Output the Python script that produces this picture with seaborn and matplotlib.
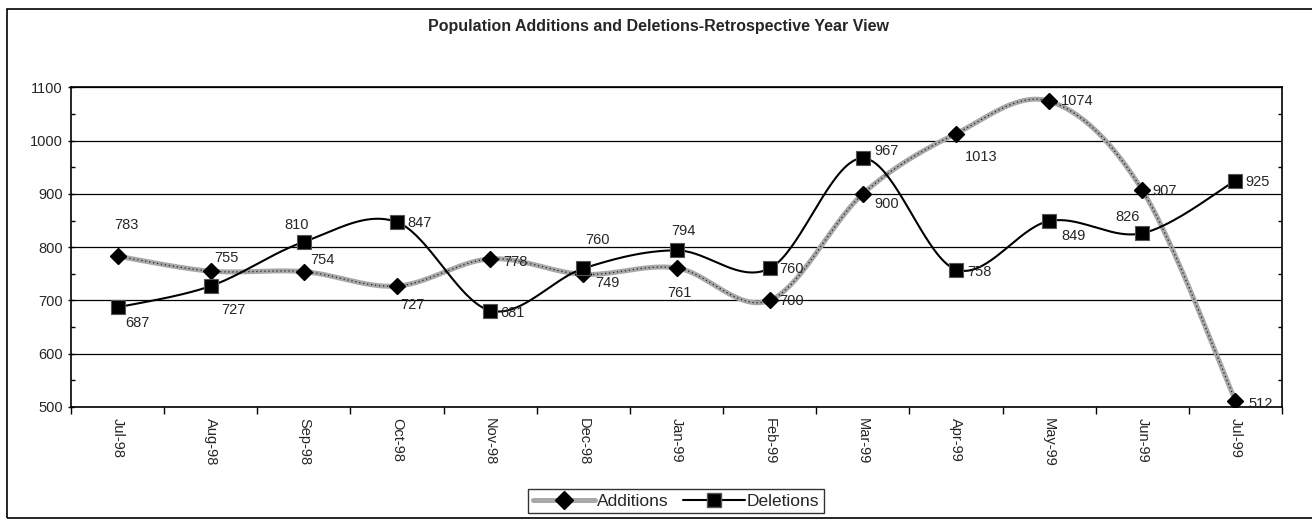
import numpy as np
import pandas as pd
import matplotlib
matplotlib.use("Agg")
import matplotlib.pyplot as plt
from matplotlib.lines import Line2D
from matplotlib.patches import Rectangle
import seaborn as sns

sns.set_style("white")
plt.rcParams["font.family"] = ["Liberation Sans", "DejaVu Sans"]

months = ["Jul-98", "Aug-98", "Sep-98", "Oct-98", "Nov-98", "Dec-98", "Jan-99",
          "Feb-99", "Mar-99", "Apr-99", "May-99", "Jun-99", "Jul-99"]
additions = [783, 755, 754, 727, 778, 749, 761, 700, 900, 1013, 1074, 907, 512]
deletions = [687, 727, 810, 847, 681, 760, 794, 760, 967, 758, 849, 826, 925]

# label offsets in pixels (dx, dy), dy positive = down
add_offsets = [(9, -31), (16, -13), (19, -12), (15, 19), (25, 3), (24, 9), (3, 25),
               (22, 1), (24, 10), (25, 23), (28, 0), (22, 1), (25, 3)]
del_offsets = [(20, 16), (23, 24), (-7, -17), (23, 1), (22, 2), (14, -28), (7, -19),
               (22, 1), (24, -7), (23, 2), (24, 15), (-15, -16), (22, 1)]


def smooth(xs, ys, n=40):
    # Excel-style smoothed line: bezier segments with catmull-rom control points
    xs = np.asarray(xs, float)
    ys = np.asarray(ys, float)
    px, py = [], []
    for i in range(len(xs) - 1):
        i0 = max(i - 1, 0)
        i3 = min(i + 2, len(xs) - 1)
        p0 = np.array([xs[i], ys[i]])
        p3 = np.array([xs[i + 1], ys[i + 1]])
        c1 = p0 + (p3 - np.array([xs[i0], ys[i0]])) / 6.0
        c2 = p3 - (np.array([xs[i3], ys[i3]]) - p0) / 6.0
        t = np.linspace(0, 1, n)[:, None]
        pts = ((1 - t) ** 3) * p0 + 3 * ((1 - t) ** 2) * t * c1 + 3 * (1 - t) * t ** 2 * c2 + t ** 3 * p3
        px.extend(pts[:, 0])
        py.extend(pts[:, 1])
    return np.array(px), np.array(py)


x = np.arange(len(months))
df = pd.DataFrame({"x": x, "Additions": additions, "Deletions": deletions})

fig = plt.figure(figsize=(13.12, 5.23), dpi=100)
ax = fig.add_axes([71 / 1312, 1 - 407 / 523, (1282 - 71) / 1312, (407 - 87.3) / 523])

# gridlines
for v in range(500, 1101, 100):
    ax.axhline(v, color="black", lw=0.9, zorder=0)

ax_, ay_ = smooth(df["x"], df["Additions"])
dx_, dy_ = smooth(df["x"], df["Deletions"])

sns.lineplot(x=ax_, y=ay_, sort=False, estimator=None, color="#a8a8a8", lw=3.6, ax=ax, zorder=2)
sns.lineplot(x=ax_, y=ay_, sort=False, estimator=None, color="#222222", lw=0.9, ax=ax, zorder=2,
             dashes=False, linestyle=(0, (1, 2.2)))
sns.lineplot(x=dx_, y=dy_, sort=False, estimator=None, color="black", lw=1.5, ax=ax, zorder=3)

ax.plot(df["x"], df["Additions"], linestyle="none", marker="D", markersize=8,
        color="black", zorder=4)
ax.plot(df["x"], df["Deletions"], linestyle="none", marker="s", markersize=10.5,
        markerfacecolor="black", markeredgecolor="#555555", markeredgewidth=0.8, zorder=4)

for xi, v, (ox, oy) in zip(x, additions, add_offsets):
    ax.annotate(str(v), (xi, v), xytext=(ox, -oy), textcoords="offset pixels",
                ha="center", va="center", fontsize=10.5, zorder=5)
for xi, v, (ox, oy) in zip(x, deletions, del_offsets):
    ax.annotate(str(v), (xi, v), xytext=(ox, -oy), textcoords="offset pixels",
                ha="center", va="center", fontsize=10.5, zorder=5)

ax.set_xlim(-0.5, len(months) - 0.5)
ax.set_ylim(500, 1100)
ax.set_yticks(range(500, 1101, 100))
ax.set_yticks(range(550, 1100, 100), minor=True)
ax.set_xticks(x)
ax.set_xticklabels(months, rotation=-90, fontsize=10.5)
ax.set_xticks(np.arange(-0.5, len(months), 1.0), minor=True)
ax.tick_params(axis="x", which="major", length=0, pad=8)
ax.tick_params(axis="x", which="minor", length=5, direction="out", width=1, color="black", bottom=True)
ax.tick_params(axis="y", which="major", length=5, direction="inout", width=1, color="black", labelsize=10.5, left=True)
ax.tick_params(axis="y", which="minor", length=3, direction="in", width=1, color="black", left=True, right=True)
ax.set_xlabel("")
ax.set_ylabel("")
for s in ax.spines.values():
    s.set_color("black")
    s.set_linewidth(1.2)

fig.text(659 / 1312, 1 - 27 / 523, "Population Additions and Deletions-Retrospective Year View",
         ha="center", va="center", fontsize=11.5, fontweight="bold")

handles = [
    Line2D([], [], color="#a8a8a8", lw=3.6, marker="D", markersize=9,
           markerfacecolor="black", markeredgecolor="black"),
    Line2D([], [], color="black", lw=1.5, marker="s", markersize=10,
           markerfacecolor="black", markeredgecolor="#555555"),
]
leg = fig.legend(handles, ["Additions", "Deletions"], loc="center", ncol=2,
                 bbox_to_anchor=(676 / 1312, 1 - 501 / 523), fontsize=12.5, frameon=True,
                 fancybox=False, edgecolor="black", handlelength=3.6, handletextpad=0.1,
                 columnspacing=0.8, borderpad=0.25)
leg.get_frame().set_linewidth(1.0)

fig.patches.append(Rectangle((7 / 1312, 1 - 518 / 523), 1.1, (518 - 9) / 523,
                             transform=fig.transFigure, fill=False, edgecolor="black", lw=1.2))

fig.savefig("out.png", dpi=100)
